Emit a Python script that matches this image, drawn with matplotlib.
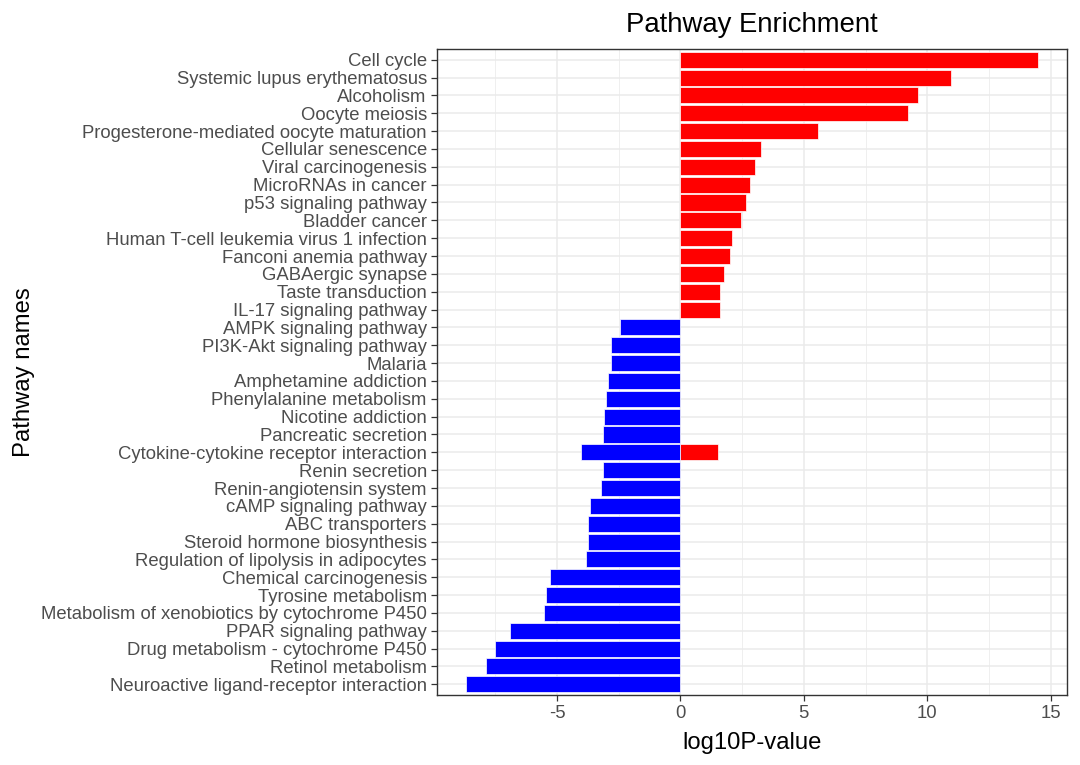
import matplotlib
matplotlib.use("Agg")
import matplotlib.pyplot as plt
from matplotlib.ticker import MultipleLocator
import numpy as np

plt.rcParams['font.family'] = ['Liberation Sans', 'DejaVu Sans']
plt.rcParams['axes.unicode_minus'] = False

# Pathway order, top to bottom
pathways = [
    "Cell cycle", "Systemic lupus erythematosus", "Alcoholism", "Oocyte meiosis",
    "Progesterone-mediated oocyte maturation", "Cellular senescence",
    "Viral carcinogenesis", "MicroRNAs in cancer", "p53 signaling pathway",
    "Bladder cancer", "Human T-cell leukemia virus 1 infection",
    "Fanconi anemia pathway", "GABAergic synapse", "Taste transduction",
    "IL-17 signaling pathway", "AMPK signaling pathway", "PI3K-Akt signaling pathway",
    "Malaria", "Amphetamine addiction", "Phenylalanine metabolism",
    "Nicotine addiction", "Pancreatic secretion",
    "Cytokine-cytokine receptor interaction", "Renin secretion",
    "Renin-angiotensin system", "cAMP signaling pathway", "ABC transporters",
    "Steroid hormone biosynthesis", "Regulation of lipolysis in adipocytes",
    "Chemical carcinogenesis", "Tyrosine metabolism",
    "Metabolism of xenobiotics by cytochrome P450", "PPAR signaling pathway",
    "Drug metabolism - cytochrome P450", "Retinol metabolism",
    "Neuroactive ligand-receptor interaction",
]

# Up-regulated pathways (red) and values
up_names = [
    "Cell cycle", "Systemic lupus erythematosus", "Alcoholism", "Oocyte meiosis",
    "Progesterone-mediated oocyte maturation", "Cellular senescence",
    "Viral carcinogenesis", "MicroRNAs in cancer", "p53 signaling pathway",
    "Bladder cancer", "Human T-cell leukemia virus 1 infection",
    "Fanconi anemia pathway", "GABAergic synapse", "Taste transduction",
    "IL-17 signaling pathway", "Cytokine-cytokine receptor interaction",
]
up_vals = [14.50, 10.98, 9.63, 9.22, 5.58, 3.25, 3.02, 2.82, 2.67, 2.47,
           2.09, 1.99, 1.78, 1.62, 1.61, 1.52]

# Down-regulated pathways (blue) and values
down_names = [
    "AMPK signaling pathway", "PI3K-Akt signaling pathway", "Malaria",
    "Amphetamine addiction", "Phenylalanine metabolism", "Nicotine addiction",
    "Pancreatic secretion", "Cytokine-cytokine receptor interaction",
    "Renin secretion", "Renin-angiotensin system", "cAMP signaling pathway",
    "ABC transporters", "Steroid hormone biosynthesis",
    "Regulation of lipolysis in adipocytes", "Chemical carcinogenesis",
    "Tyrosine metabolism", "Metabolism of xenobiotics by cytochrome P450",
    "PPAR signaling pathway", "Drug metabolism - cytochrome P450",
    "Retinol metabolism", "Neuroactive ligand-receptor interaction",
]
down_vals = [-2.45, -2.80, -2.80, -2.92, -3.03, -3.08, -3.14, -4.03, -3.14,
             -3.23, -3.66, -3.73, -3.73, -3.84, -5.28, -5.45, -5.52, -6.92,
             -7.52, -7.87, -8.70]

n = len(pathways)
ypos = {name: n - 1 - i for i, name in enumerate(pathways)}

fig = plt.figure(figsize=(10.8, 7.65), dpi=100)
ax = fig.add_axes([0.4046, 0.0915, 0.9880 - 0.4046, 0.9359 - 0.0915])

grey92 = "#EBEBEB"
ax.set_axisbelow(True)

ax.barh([ypos[p] for p in up_names], up_vals, height=0.9, color="#FF0000",
        edgecolor="white", linewidth=0.5, zorder=2)
ax.barh([ypos[p] for p in down_names], down_vals, height=0.9, color="#0000FF",
        edgecolor="white", linewidth=0.5, zorder=2)

lo = min(0, min(down_vals)); hi = max(0, max(up_vals))
rng = hi - lo
ax.set_xlim(lo - 0.05 * rng, hi + 0.05 * rng)
ax.set_ylim(-0.6, n - 1 + 0.6)

ax.set_yticks(range(n))
ax.set_yticklabels(pathways[::-1])
ax.xaxis.set_major_locator(MultipleLocator(5))
ax.xaxis.set_minor_locator(MultipleLocator(2.5))

ax.grid(which="major", axis="both", color=grey92, linewidth=1.1, zorder=0)
ax.grid(which="minor", axis="x", color=grey92, linewidth=0.55, zorder=0)

for s in ax.spines.values():
    s.set_color("#333333")
    s.set_linewidth(1.0)

ax.tick_params(axis="both", which="major", length=4.3, width=0.9, color="#333333",
               labelcolor="#4D4D4D", labelsize=13.3, pad=3)
ax.tick_params(axis="x", which="minor", length=0)

ax.set_xlabel("log10P-value", fontsize=17.2, color="black", labelpad=7)
ax.set_ylabel("Pathway names", fontsize=17.2, color="black", labelpad=4)
ax.set_title("Pathway Enrichment", fontsize=19.8, color="black", pad=12)

fig.savefig("out.png", dpi=100, facecolor="white")
